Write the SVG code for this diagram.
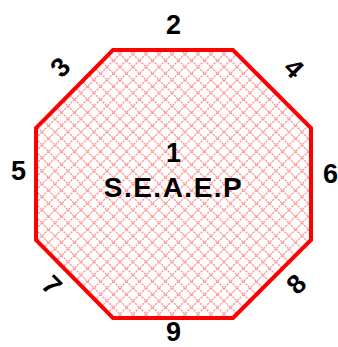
<svg xmlns="http://www.w3.org/2000/svg" width="338" height="347" viewBox="0 0 338 347">
<style>
.lbl{font-family:"Liberation Sans",Arial,sans-serif;font-weight:bold;font-size:27px;fill:#000;text-anchor:middle}
</style>
<defs>
<pattern id="hatch" patternUnits="userSpaceOnUse" width="13" height="13" x="3" y="2">
<path d="M0,0 L13,13 M13,0 L0,13" stroke="#ff9494" stroke-width="1.3" fill="none" stroke-dasharray="2.2 0.9"/>
</pattern>
</defs>
<rect width="338" height="347" fill="#fff"/>
<g id="node-1">
<polygon points="113,50 233,50 311,128 311,240 233,318 113,318 36,240 36,128" fill="url(#hatch)" stroke="#ff0000" stroke-width="4" stroke-linejoin="miter"/>
<text class="lbl" x="173.5" y="162">1</text>
<text class="lbl" x="173.5" y="197" style="font-size:28px" letter-spacing="1.5">S.E.A.E.P</text>
</g>
<g id="labels">
<text class="lbl" x="173.5" y="34">2</text>
<text class="lbl" transform="translate(60,67) rotate(-45)" y="9.5">3</text>
<text class="lbl" transform="translate(294,68) rotate(45)" y="9.5">4</text>
<text class="lbl" x="18.5" y="180">5</text>
<text class="lbl" x="323" y="183" style="text-anchor:start">6</text>
<text class="lbl" transform="translate(52,285) rotate(45)" y="9.5">7</text>
<text class="lbl" transform="translate(296,284) rotate(-45)" y="9.5">8</text>
<text class="lbl" x="173.5" y="341">9</text>
</g>
<g id="connectors"></g>
</svg>
